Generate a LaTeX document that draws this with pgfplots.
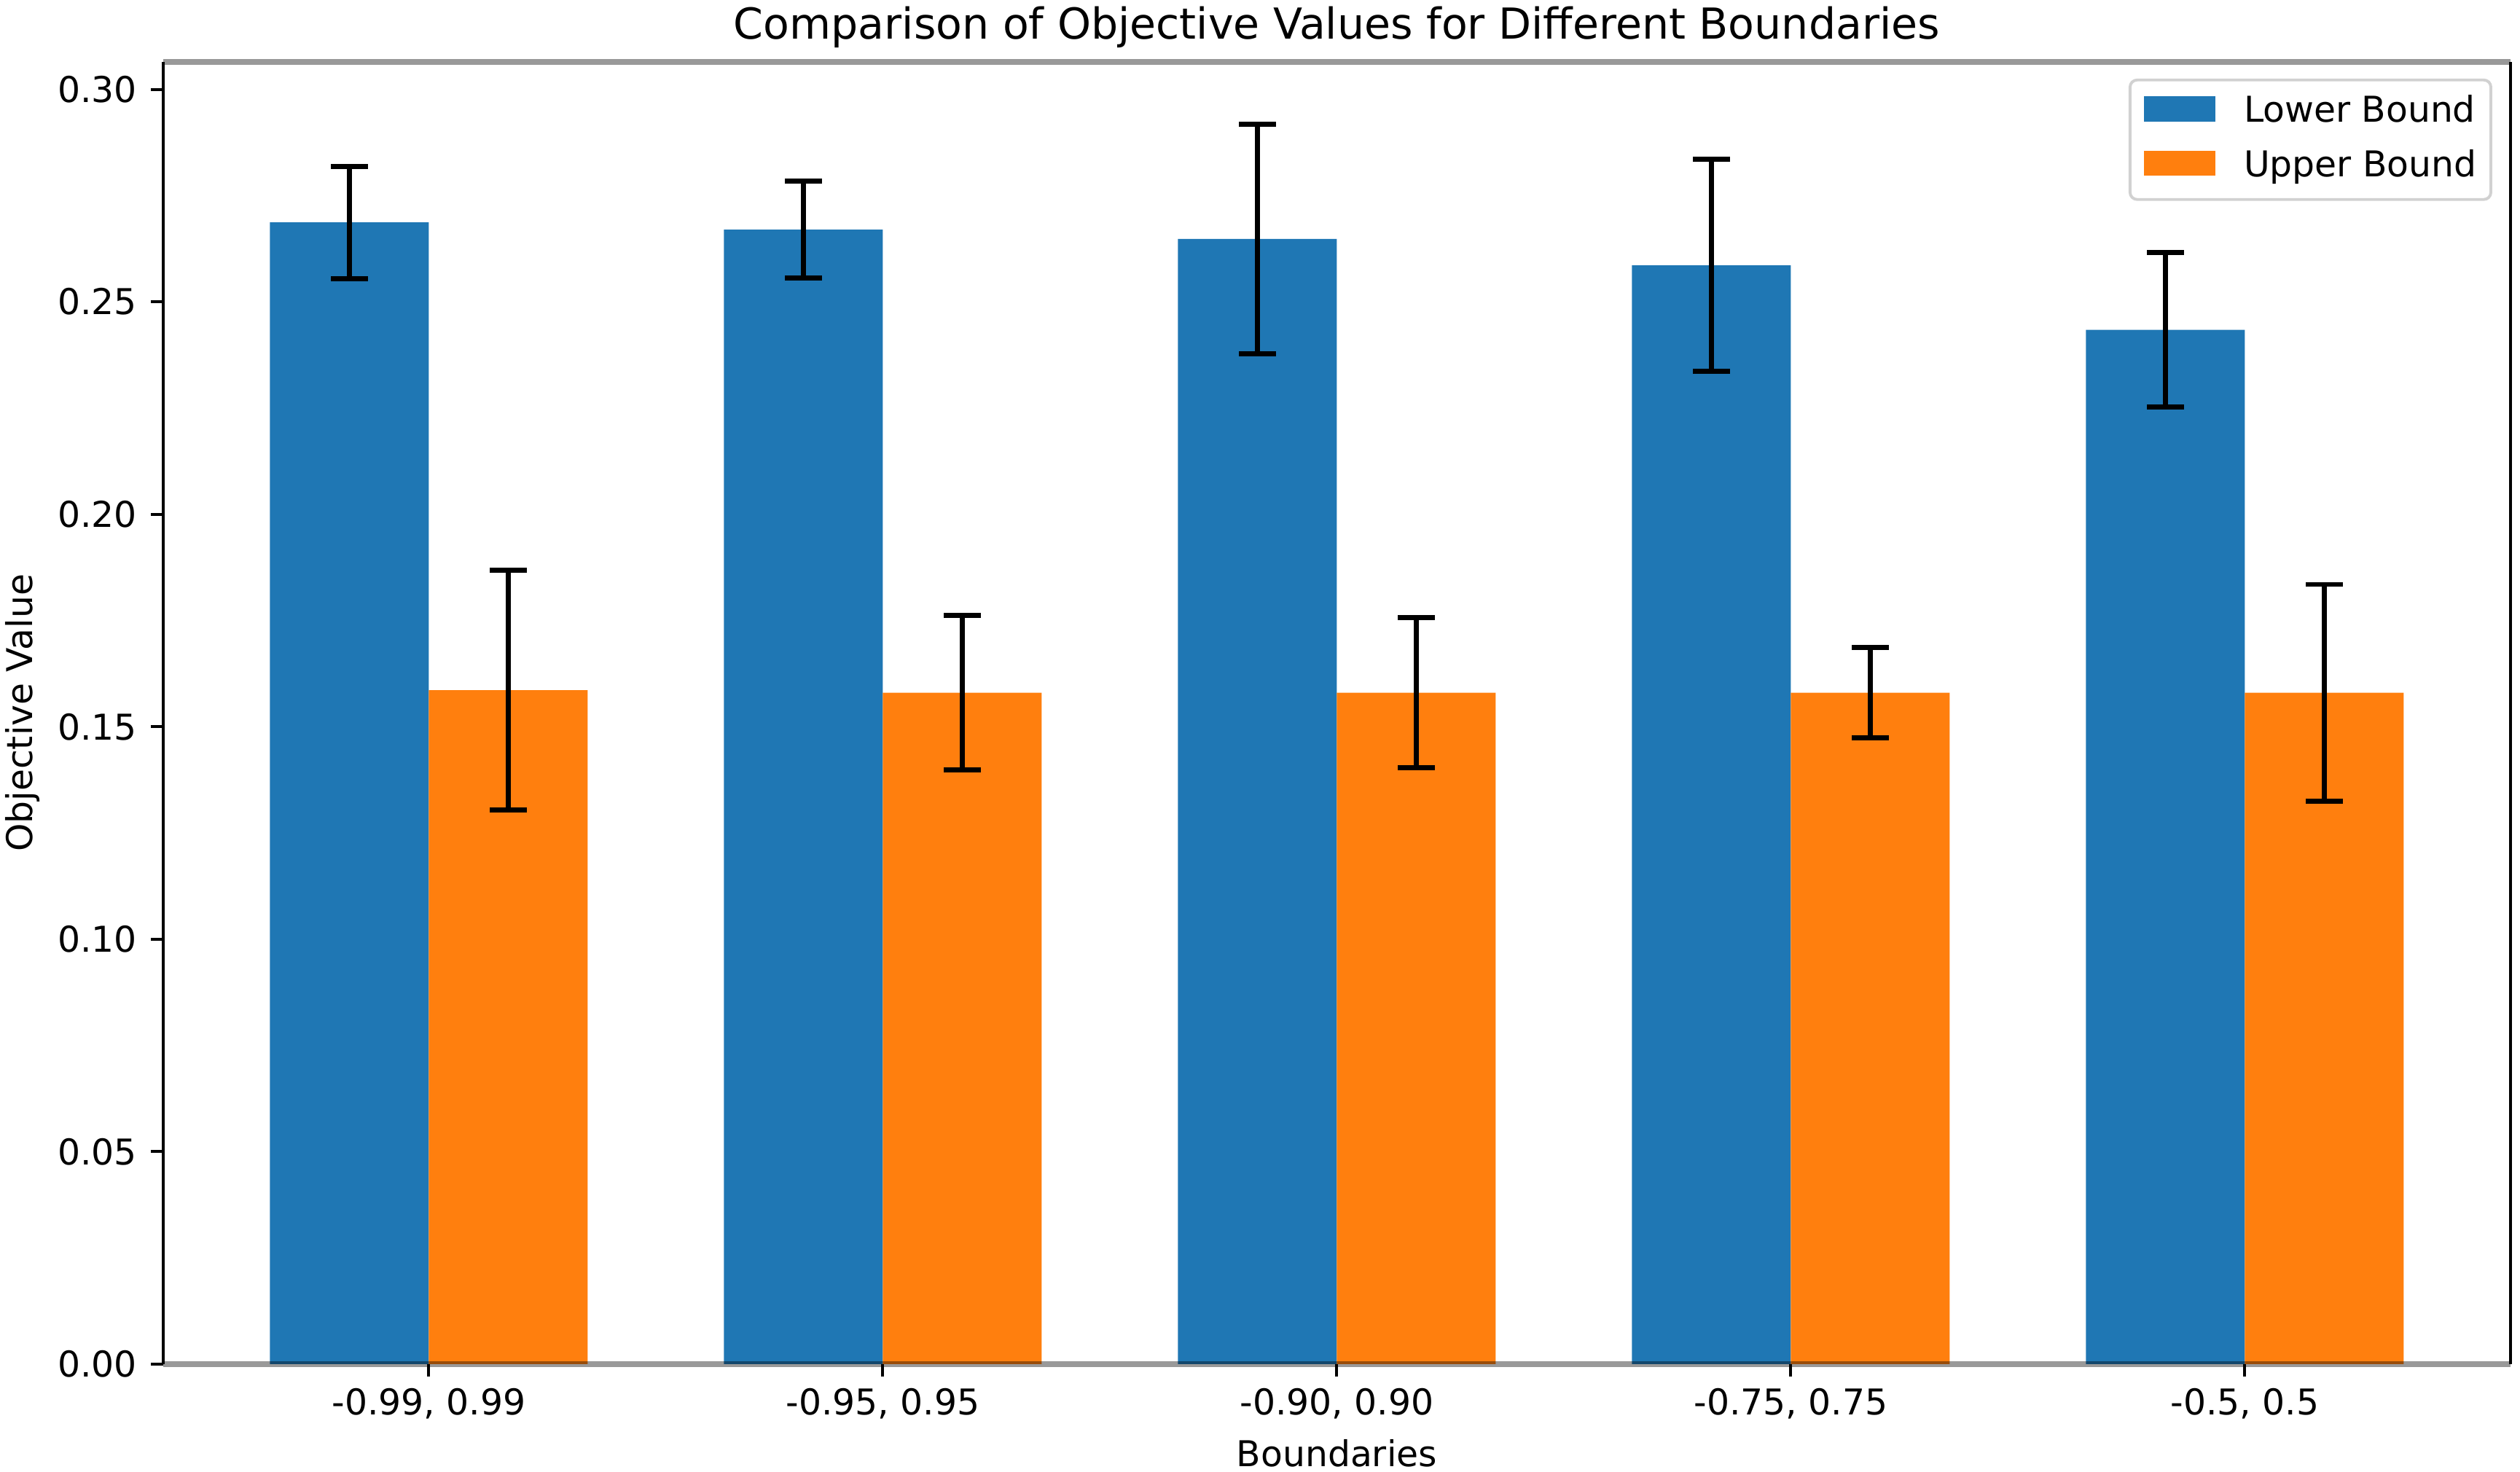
\documentclass[border=0pt]{standalone}
\usepackage{fontspec}
\setmainfont{DejaVu Sans}
\usepackage{pgfplots}
\usepackage{pgfplotstable}
\pgfplotsset{compat=1.18}
\definecolor{mplblue}{RGB}{31,119,180}
\definecolor{mplorange}{RGB}{255,127,14}

\pgfplotstableread{
x y e
-0.175 0.2687 0.0132
0.825 0.2670 0.0114
1.825 0.2648 0.0270
2.825 0.2586 0.0249
3.825 0.2434 0.0182
}\lowertable
\pgfplotstableread{
x y e
0.175 0.1586 0.0282
1.175 0.1580 0.0182
2.175 0.1580 0.0177
3.175 0.1580 0.0106
4.175 0.1580 0.0255
}\uppertable

\begin{document}
\begin{tikzpicture}
\begin{axis}[
  at={(0pt,0pt)}, anchor=south west,
  scale only axis, width=660pt, height=366.2pt,
  xmin=-0.585, xmax=4.585, ymin=0, ymax=0.30648,
  axis on top,
  separate axis lines,
  x axis line style={black, opacity=0.4, line width=1.6pt},
  y axis line style={black, line width=0.9pt},
  xtick={0,1,2,3,4},
  xticklabels={{-0.99, 0.99},{-0.95, 0.95},{-0.90, 0.90},{-0.75, 0.75},{-0.5, 0.5}},
  ytick={0,0.05,0.1,0.15,0.2,0.25,0.3},
  yticklabels={0.00,0.05,0.10,0.15,0.20,0.25,0.30},
  xtick pos=lower, ytick pos=left,
  tick align=outside,
  major tick length=3.5pt,
  tick style={black, line width=0.8pt},
  ticklabel style={font=\fontsize{10}{12}\selectfont, text=black},
  xticklabel style={anchor=base, inner sep=0pt, yshift=-10.8pt},
  yticklabel style={anchor=east, inner sep=0pt, xshift=-3.7pt},
  title={Comparison of Objective Values for Different Boundaries},
  title style={at={(axis description cs:0.5,1)}, anchor=base, inner sep=0pt, yshift=0.5pt, font=\fontsize{12}{14}\selectfont},
  xlabel={Boundaries},
  xlabel style={at={(axis description cs:0.5,0)}, anchor=base, inner sep=0pt, yshift=-28.7pt, font=\fontsize{10}{12}\selectfont},
  ylabel={Objective Value},
  ylabel style={at={([xshift=-36.7pt]axis description cs:0,0.5)}, anchor=base, inner sep=0pt, font=\fontsize{10}{12}\selectfont},
  legend style={at={(axis description cs:1,1)}, anchor=north east, xshift=-5.1pt, yshift=-4.7pt,
    draw=black!18, line width=0.8pt, rounded corners=2pt, fill=white,
    inner xsep=4pt, inner ysep=4pt, font=\fontsize{10}{12}\selectfont,
    nodes={inner sep=0pt, text height=7.8pt, text depth=2.5pt, anchor=base west},
    row sep=5pt, /tikz/every odd column/.append style={column sep=8pt}},
  legend cell align=left,
]
\addplot[ybar, bar width=0.35, bar shift=0pt, fill=mplblue, draw=none,
  legend image code/.code={\fill[mplblue, sharp corners] (0pt,0.15pt) rectangle (20pt,7.15pt);},
  error bars/.cd, y dir=both, y explicit,
  error bar style={draw=black, solid, line width=1.4pt},
  error mark options={draw=black, solid, line width=1.4pt, mark size=5.2pt, rotate=90}]
  table[x=x, y=y, y error=e]{\lowertable};
\addlegendentry{Lower Bound}
\addplot[ybar, bar width=0.35, bar shift=0pt, fill=mplorange, draw=none,
  legend image code/.code={\fill[mplorange, sharp corners] (0pt,0.15pt) rectangle (20pt,7.15pt);},
  error bars/.cd, y dir=both, y explicit,
  error bar style={draw=black, solid, line width=1.4pt},
  error mark options={draw=black, solid, line width=1.4pt, mark size=5.2pt, rotate=90}]
  table[x=x, y=y, y error=e]{\uppertable};
\addlegendentry{Upper Bound}
\end{axis}
\pgfresetboundingbox
\path[use as bounding box] (-45.9pt,-30.3pt) rectangle (662.7pt,383.6pt);
\end{tikzpicture}
\end{document}
